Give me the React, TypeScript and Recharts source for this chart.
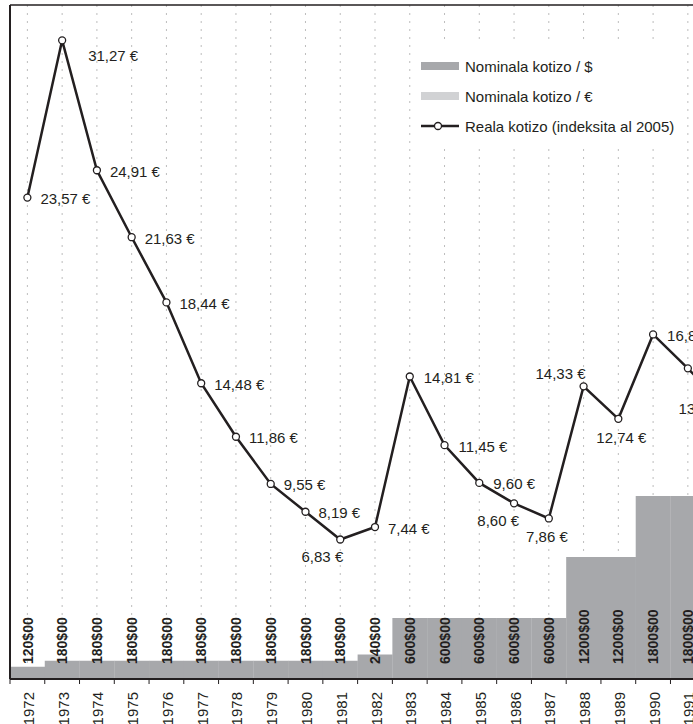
import React from 'react';
import {
  ComposedChart,
  Bar,
  Line,
  XAxis,
  YAxis,
  CartesianGrid,
  Legend,
  LabelList,
} from 'recharts';

// ---- data ----
const years = [
  '1972', '1973', '1974', '1975', '1976', '1977', '1978', '1979', '1980', '1981',
  '1982', '1983', '1984', '1985', '1986', '1987', '1988', '1989', '1990', '1991', '1992',
];
const nominalUsd = [
  120, 180, 180, 180, 180, 180, 180, 180, 180, 180,
  240, 600, 600, 600, 600, 600, 1200, 1200, 1800, 1800, 1800,
];
const nominalEur: (number | null)[] = [
  null, null, null, null, null, null, null, null, null, null,
  null, null, null, null, null, null, null, null, null, null, null,
];
const realEur = [
  23.57, 31.27, 24.91, 21.63, 18.44, 14.48, 11.86, 9.55, 8.19, 6.83,
  7.44, 14.81, 11.45, 9.6, 8.6, 7.86, 14.33, 12.74, 16.87, 15.21, 13.41,
];
// label placement of the real-price labels: [dx, dy, anchor]
const labelPlacement: [number, number, string][] = [
  [13, 1, 'start'], [26, 15, 'start'], [13, 1, 'start'], [13, 1, 'start'], [13, 1, 'start'],
  [13, 1, 'start'], [13, 1, 'start'], [13, 1, 'start'], [13, 1, 'start'], [3, 17, 'end'],
  [13, 1, 'start'], [14, 1, 'start'], [14, 1, 'start'], [14, 1, 'start'], [5, 17, 'end'],
  [19, 18, 'end'], [2, -13, 'end'], [3, 19, 'middle'], [14, 1, 'start'], [13, 1, 'start'],
  [-44, 3, 'start'],
];

const seriesNames = {
  usd: 'Nominala kotizo / $',
  eur: 'Nominala kotizo / €',
  real: 'Reala kotizo (indeksita al 2005)',
};

const data = years.map((year, i) => ({
  year,
  usd: nominalUsd[i],
  eur: nominalEur[i],
  real: realEur[i],
}));

// ---- layout / style ----
const W = 750;
const H = 724;
const MARGIN = { top: 4, right: 10, bottom: 0, left: 9 };
const FONT = '"Liberation Sans", Arial, Helvetica, sans-serif';
const INK = '#231f20';
const USD_FILL = '#a7a8ab';
const EUR_FILL = '#d1d2d4';

const fmtEur = (v: number) => `${v.toFixed(2).replace('.', ',')} €`;

const YearTick = (props: any) => {
  const { x, y, payload } = props;
  const bw = (W - MARGIN.left - MARGIN.right - 1) / years.length;
  const axisY = y - 4;
  const ty = axisY + 13;
  const tx = x + 1;
  return (
    <g>
      <line x1={x - bw / 2} x2={x - bw / 2} y1={axisY} y2={axisY + 5} stroke={INK} strokeWidth={1} />
      <text
        x={tx}
        y={ty}
        transform={`rotate(-90 ${tx} ${ty})`}
        textAnchor="end"
        dominantBaseline="central"
        fontFamily={FONT}
        fontSize={15}
        fill={INK}
      >
        {payload.value}
      </text>
    </g>
  );
};

const UsdLabel = (props: any) => {
  const vb = props.viewBox || {};
  const x = vb.x ?? props.x;
  const y = vb.y ?? props.y;
  const width = vb.width ?? props.width;
  const height = vb.height ?? props.height;
  const value = props.value;
  if (value == null || x == null) return null;
  const cx = x + width / 2;
  const by = y + height - 15;
  return (
    <text
      x={cx}
      y={by}
      transform={`rotate(-90 ${cx} ${by})`}
      textAnchor="start"
      dominantBaseline="central"
      fontFamily={FONT}
      fontWeight="bold"
      fontSize={14}
      fill={INK}
    >
      {`${value}$00`}
    </text>
  );
};

const RealLabel = (props: any) => {
  const vb = props.viewBox || {};
  const x = vb.x ?? props.x;
  const y = vb.y ?? props.y;
  if (x == null || props.value == null) return null;
  const bw = (W - MARGIN.left - MARGIN.right - 1) / years.length;
  const idx =
    typeof props.index === 'number'
      ? props.index
      : Math.round((x - MARGIN.left - 1 - bw / 2) / bw);
  const [dx, dy, anchor] = labelPlacement[idx] || [13, 1, 'start'];
  return (
    <text
      x={x + dx}
      y={y + dy}
      textAnchor={anchor as any}
      dominantBaseline="central"
      fontFamily={FONT}
      fontSize={15}
      fill={INK}
    >
      {fmtEur(Number(props.value))}
    </text>
  );
};

const LegendBox = () => {
  const row: React.CSSProperties = {
    display: 'flex',
    alignItems: 'center',
    height: 30,
  };
  const icon: React.CSSProperties = { width: 38, height: 8, marginLeft: 9, flex: 'none' };
  const txt: React.CSSProperties = { marginLeft: 6, whiteSpace: 'nowrap' };
  return (
    <div
      style={{
        width: 272,
        height: 102,
        background: '#fff',
        fontFamily: FONT,
        fontSize: 15,
        color: INK,
        boxSizing: 'border-box',
        paddingTop: 7,
      }}
    >
      <div style={row}>
        <div style={{ ...icon, background: USD_FILL }} />
        <span style={txt}>{seriesNames.usd}</span>
      </div>
      <div style={row}>
        <div style={{ ...icon, background: EUR_FILL }} />
        <span style={txt}>{seriesNames.eur}</span>
      </div>
      <div style={row}>
        <svg width={38} height={10} style={{ marginLeft: 9, flex: 'none' }}>
          <line x1={0} x2={38} y1={5} y2={5} stroke={INK} strokeWidth={2.5} />
          <circle cx={17} cy={5} r={3.5} fill="#fff" stroke={INK} strokeWidth={1.3} />
        </svg>
        <span style={txt}>{seriesNames.real}</span>
      </div>
    </div>
  );
};

export default function App() {
  return (
    <div
      style={{
        position: 'fixed',
        left: 0,
        top: 0,
        width: 693,
        height: 724,
        overflow: 'hidden',
        background: '#fff',
      }}
    >
      <ComposedChart width={W} height={H} data={data} margin={MARGIN} barCategoryGap={0} barGap={0}>
        <CartesianGrid
          yAxisId="line"
          vertical={true}
          horizontal={false}
          stroke="#bdbdbd"
          strokeDasharray="2 6"
        />
        <XAxis
          dataKey="year"
          height={45}
          interval={0}
          tickSize={4}
          tickMargin={0}
          tickLine={false}
          axisLine={{ stroke: INK, strokeWidth: 2 }}
          tick={<YearTick />}
        />
        <XAxis
          xAxisId="top"
          dataKey="year"
          orientation="top"
          height={1}
          tick={false}
          tickLine={false}
          axisLine={{ stroke: INK, strokeWidth: 1.5 }}
        />
        <YAxis
          yAxisId="line"
          orientation="left"
          width={1}
          domain={[0, 33]}
          allowDataOverflow={true}
          tick={false}
          tickLine={false}
          axisLine={{ stroke: INK, strokeWidth: 2 }}
        />
        <YAxis yAxisId="bar" orientation="right" hide={true} domain={[0, 6630]} allowDataOverflow={true} />
        <Bar
          yAxisId="bar"
          dataKey="usd"
          name={seriesNames.usd}
          stackId="nominal"
          fill={USD_FILL}
          isAnimationActive={false}
        >
          <LabelList dataKey="usd" content={<UsdLabel />} />
        </Bar>
        <Bar
          yAxisId="bar"
          dataKey="eur"
          name={seriesNames.eur}
          stackId="nominal"
          fill={EUR_FILL}
          isAnimationActive={false}
        />
        <Line
          yAxisId="line"
          type="linear"
          dataKey="real"
          name={seriesNames.real}
          stroke={INK}
          strokeWidth={2.5}
          dot={{ r: 3.5, fill: '#fff', stroke: INK, strokeWidth: 1.3 }}
          activeDot={false}
          isAnimationActive={false}
        >
          <LabelList dataKey="real" content={<RealLabel />} />
        </Line>
        <Legend
          layout="vertical"
          align="center"
          verticalAlign="middle"
          content={<LegendBox />}
          wrapperStyle={{ left: 412, top: 44, width: 272, height: 102 }}
        />
      </ComposedChart>
    </div>
  );
}
